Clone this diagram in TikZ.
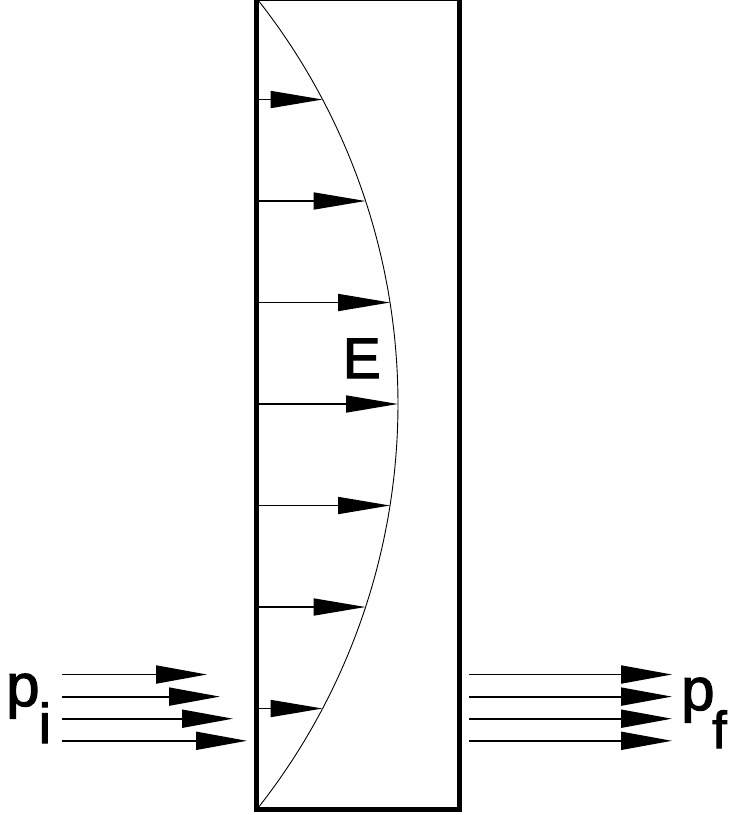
\documentclass[tikz,border=0pt]{standalone}
\usepackage{fontspec}
\setmainfont{Liberation Sans}
\newfontfamily\heavysans[FakeBold=2]{Liberation Sans}
\usetikzlibrary{arrows.meta}
\begin{document}
\begin{tikzpicture}[x=1pt,y=-1pt,
  fieldarrow/.style={line width=1.7pt,-{Triangle[length=52pt,width=17pt]}},
  beamarrow/.style={line width=1.9pt,-{Triangle[length=51pt,width=18pt]}},
  lab/.style={anchor=base west,inner sep=0pt,font=\heavysans\fontsize{60}{60}\selectfont},
  sublab/.style={anchor=base west,inner sep=0pt,font=\heavysans\fontsize{56}{56}\selectfont}]
\useasboundingbox (0,0) rectangle (729,815);
% box
\coordinate (tl) at (256,-1.5);
\coordinate (br) at (459.5,809.5);
\draw[line width=5pt] (tl) rectangle (br);
% field profile (circular arc)
\draw[line width=0.9pt] plot[domain=-38.23:38.23,samples=120,smooth] ({-254.9+652.9*cos(\x)},{404+652.9*sin(\x)});
% field arrows
\foreach \k/\y/\xe in {1/99.5/322.6, 2/201/365.6, 3/302.5/390.1, 4/404/398, 5/505.5/390.1, 6/607/365.6, 7/708.5/322.6}{
  \coordinate (fs\k) at (258,\y);
  \coordinate (fe\k) at (\xe,\y);
  \draw[fieldarrow] (fs\k) -- (fe\k);
}
\node[anchor=base west,inner sep=0pt,font=\heavysans\fontsize{57}{57}\selectfont] (E) at (342.5,378) {E};
% incoming beam
\foreach \k/\y/\xe in {1/674.5/207, 2/696.6/220, 3/718.7/233, 4/740.8/247}{
  \coordinate (is\k) at (62,\y);
  \coordinate (ie\k) at (\xe,\y);
  \draw[beamarrow] (is\k) -- (ie\k);
}
% outgoing beam
\foreach \k/\y in {1/674.5, 2/696.6, 3/718.7, 4/740.8}{
  \coordinate (os\k) at (469,\y);
  \coordinate (oe\k) at (672,\y);
  \draw[beamarrow] (os\k) -- (oe\k);
}
% labels
\node[lab] (pi) at (6,706) {p};
\node[sublab] (pisub) at (38.5,743) {i};
\node[lab] (pf) at (681,710) {p};
\node[anchor=base west,inner sep=0pt,font=\heavysans\fontsize{52}{52}\selectfont] (pfsub) at (712,748) {f};
\end{tikzpicture}
\end{document}
